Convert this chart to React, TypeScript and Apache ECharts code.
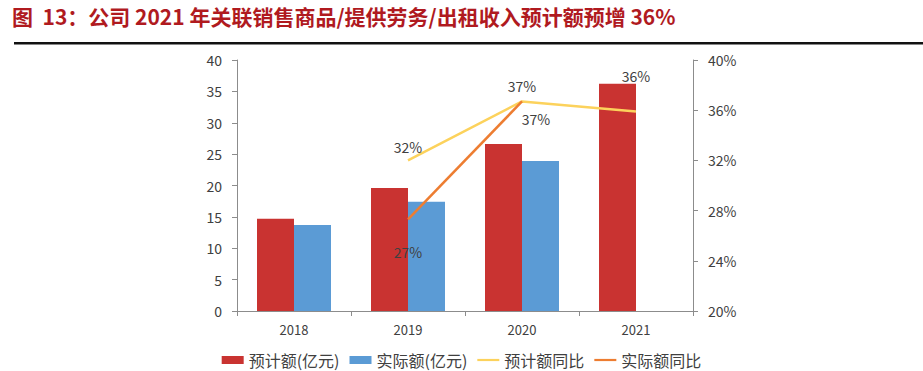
import React, { useEffect, useRef } from "react";
import * as echarts from "echarts";

const categories = ["2018", "2019", "2020", "2021"];
const forecastAmount = [14.7, 19.6, 26.6, 36.2];
const actualAmount = [13.7, 17.4, 23.9, null];
const forecastYoY = [null, 32.0, 36.7, 35.9];
const actualYoY = [null, 27.3, 36.7, null];
const leftTicks = [0, 5, 10, 15, 20, 25, 30, 35, 40];
const rightTicks = [20, 24, 28, 32, 36, 40];
const seriesNames = ["预计额(亿元)", "实际额(亿元)", "预计额同比", "实际额同比"];
const titleText = "图  13：公司 2021 年关联销售商品/提供劳务/出租收入预计额预增 36%";

export default function App() {
  const ref = useRef<HTMLDivElement>(null);
  useEffect(() => {
    document.body.style.margin = "0";
    const chart = echarts.init(ref.current!, null, { renderer: "svg" });
    const textColor = "#404040";
    const axisColor = "#8c8c8c";
    const pct = (v: any) => Math.round(Array.isArray(v.value) ? v.value[1] : v.value) + "%";
    const lineIcon = "path://M0,0h20v2h-20z";
    chart.setOption({
      animation: false,
      textStyle: { fontFamily: "Noto Sans CJK SC" },
      graphic: [
        {
          type: "text",
          left: 12,
          top: 5,
          style: {
            text: titleText,
            fill: "#b01a1f",
            font: "bold 21px 'Noto Sans CJK SC'",
          },
        },
        {
          type: "rect",
          shape: { x: 14, y: 42, width: 909, height: 2.5 },
          style: { fill: "#111" },
        },
      ],
      legend: {
        top: 347,
        left: "center",
        itemWidth: 22,
        itemHeight: 8,
        itemGap: 10,
        textStyle: { color: textColor, fontSize: 16 },
        data: [
          { name: seriesNames[0], icon: "rect" },
          { name: seriesNames[1], icon: "rect" },
          { name: seriesNames[2], icon: lineIcon },
          { name: seriesNames[3], icon: lineIcon },
        ],
      },
      grid: { left: 237, right: 230, top: 60, bottom: 60 },
      xAxis: {
        type: "category",
        data: categories,
        boundaryGap: true,
        axisLine: { lineStyle: { color: axisColor } },
        axisTick: { show: true, alignWithLabel: false, length: 5, lineStyle: { color: axisColor } },
        axisLabel: { color: textColor, fontSize: 13, margin: 12 },
      },
      yAxis: [
        {
          type: "value",
          min: leftTicks[0],
          max: leftTicks[leftTicks.length - 1],
          interval: 5,
          axisLine: { show: true, lineStyle: { color: axisColor } },
          axisTick: { show: true, length: 5, lineStyle: { color: axisColor } },
          splitLine: { show: false },
          axisLabel: { color: textColor, fontSize: 14, margin: 15 },
        },
        {
          type: "value",
          min: rightTicks[0],
          max: rightTicks[rightTicks.length - 1],
          interval: 4,
          position: "right",
          axisLine: { show: true, lineStyle: { color: axisColor } },
          axisTick: { show: true, length: 5, lineStyle: { color: axisColor } },
          splitLine: { show: false },
          axisLabel: { color: textColor, fontSize: 14, margin: 15, formatter: "{value}%" },
        },
      ],
      series: [
        {
          name: seriesNames[0],
          type: "bar",
          data: forecastAmount,
          barWidth: 37,
          barGap: "0%",
          itemStyle: { color: "#c93331" },
        },
        {
          name: seriesNames[1],
          type: "bar",
          data: actualAmount,
          barWidth: 37,
          barGap: "0%",
          itemStyle: { color: "#5b9bd5" },
        },
        {
          name: seriesNames[2],
          type: "line",
          yAxisIndex: 1,
          data: forecastYoY.map((v, i) => {
            const d: any = { value: v };
            if (i === 1) d.label = { show: true, position: "top", distance: 6 };
            if (i === 3) d.label = { show: true, position: "top", offset: [0, -20] };
            return d;
          }),
          symbol: "circle",
          symbolSize: 0.1,
          showSymbol: true,
          lineStyle: { color: "#fcd25c", width: 2.5 },
          itemStyle: { color: "#fcd25c" },
          label: {
            show: true,
            position: "top",
            distance: 8,
            color: textColor,
            fontSize: 14,
            formatter: pct,
          },
        },
        {
          name: seriesNames[3],
          type: "line",
          yAxisIndex: 1,
          data: actualYoY.map((v, i) => {
            const d: any = { value: v };
            if (i === 1) d.label = { show: true, position: "bottom", distance: 26 };
            if (i === 2) d.label = { show: true, position: "bottom", offset: [14, 6] };
            return d;
          }),
          symbol: "circle",
          symbolSize: 0.1,
          showSymbol: true,
          lineStyle: { color: "#ed7d31", width: 2.5 },
          itemStyle: { color: "#ed7d31" },
          label: {
            show: true,
            position: "bottom",
            color: textColor,
            fontSize: 14,
            formatter: pct,
          },
        },
      ],
    });
    return () => chart.dispose();
  }, []);
  return <div ref={ref} style={{ width: 923, height: 371 }} />;
}
